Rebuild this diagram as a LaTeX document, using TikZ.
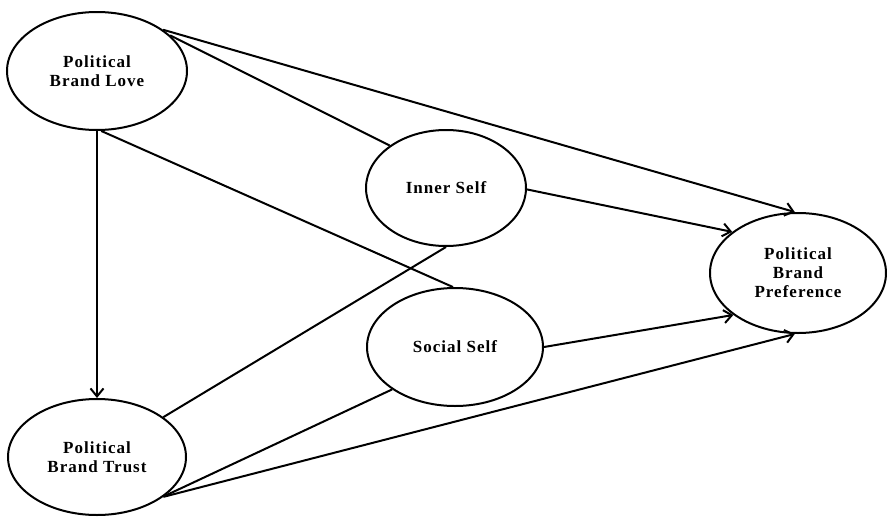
\documentclass[tikz,border=0pt]{standalone}
\usepackage{fontspec}
\setmainfont{Liberation Serif}
\newfontfamily\lblfont[LetterSpace=6]{Liberation Serif}
\usetikzlibrary{shapes.geometric,arrows.meta}
\begin{document}
\begin{tikzpicture}[x=1pt,y=-1pt,line width=2pt,
  lat/.style={ellipse,draw,inner sep=0pt,align=center,
    font=\lblfont\bfseries\fontsize{17}{19}\selectfont},
  arr/.style={-{Straight Barb[length=8pt,width=13pt]}}]
\useasboundingbox (0,0) rectangle (887,517);
\node[lat,minimum width=180pt,minimum height=118pt] (pbl) at (97,71) {Political\\Brand Love};
\node[lat,minimum width=178pt,minimum height=116pt] (pbt) at (97,457) {Political\\Brand Trust};
\node[lat,minimum width=160pt,minimum height=116pt] (is) at (446,188) {Inner Self};
\node[lat,minimum width=176pt,minimum height=118pt] (ss) at (455,347) {Social Self};
\node[lat,minimum width=176pt,minimum height=120pt] (pbp) at (798,273) {Political\\Brand\\Preference};
\draw[arr] (pbl.32) -- (pbp.93);
\draw (pbl.26) -- (is.143);
\draw[arr] (pbl.south) -- (pbt.north);
\draw (pbl.-86) -- (ss.92);
\draw[arr] (is.-1) -- (pbp.148);
\draw (is.south) -- (pbt.31);
\draw[arr] (ss.east) -- (pbp.213);
\draw (ss.214) -- (pbt.-30);
\draw[arr] (pbt.-31) -- (pbp.267);
\end{tikzpicture}
\end{document}
